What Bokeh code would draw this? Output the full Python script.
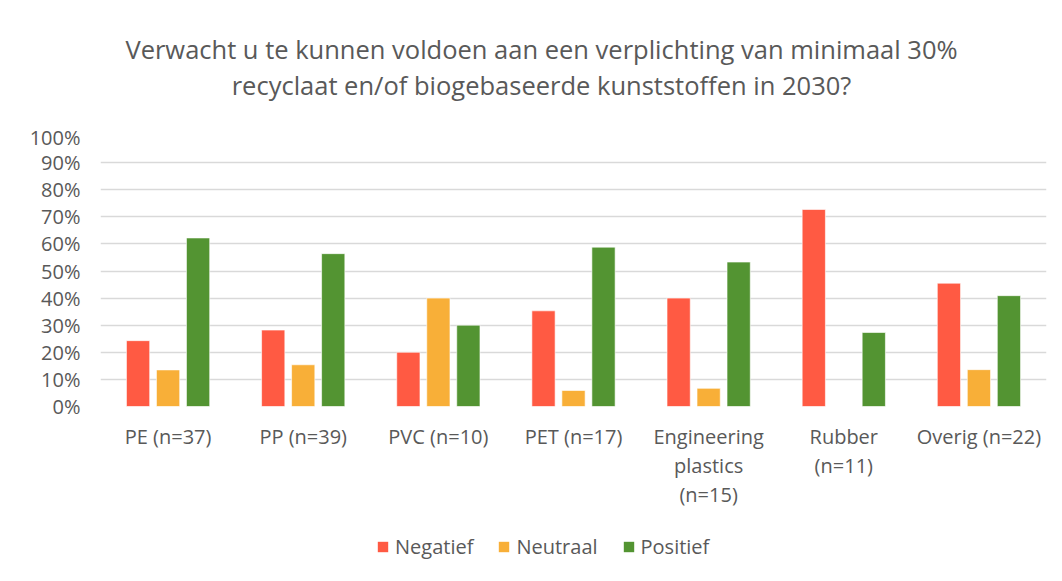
from bokeh.plotting import figure
from bokeh.layouts import column
from bokeh.models import FactorRange, Legend, LegendItem, NumeralTickFormatter, FixedTicker, Label
from bokeh.transform import dodge
from bokeh.embed import file_html
from bokeh.resources import INLINE

categories = ["PE (n=37)", "PP (n=39)", "PVC (n=10)", "PET (n=17)",
              "Engineering\nplastics\n(n=15)", "Rubber\n(n=11)", "Overig (n=22)"]
negatief = [0.243, 0.282, 0.20, 0.353, 0.40, 0.727, 0.455]
neutraal = [0.135, 0.154, 0.40, 0.059, 0.067, 0.0, 0.136]
positief = [0.622, 0.564, 0.30, 0.588, 0.533, 0.273, 0.409]
series_names = ["Negatief", "Neutraal", "Positief"]
colors = ["#FF5A43", "#F8AF38", "#539432"]
title_lines = ["Verwacht u te kunnen voldoen aan een verplichting van minimaal 30%",
               "recyclaat en/of biogebaseerde kunststoffen in 2030?"]

FONT = "Open Sans"
GREY = "#595959"
W = 1060


def blank(height):
    f = figure(width=W, height=height, x_range=(0, 1), y_range=(0, 1), output_backend="svg",
               toolbar_location=None, min_border=0, outline_line_color=None)
    f.axis.visible = False
    f.grid.visible = False
    return f


# --- title strip ---
top = blank(123)
for txt, yy in zip(title_lines, [75, 39]):
    top.add_layout(Label(x=441, y=yy, x_units="screen", y_units="screen", text=txt,
                         text_align="center", text_baseline="middle", text_font=FONT,
                         text_font_size="25.5px", text_color=GREY))

# --- main chart ---
p = figure(x_range=FactorRange(*categories), y_range=(0, 1.0),
           width=W, height=398, output_backend="svg", toolbar_location=None,
           min_border_left=100, min_border_right=14, min_border_top=12, min_border_bottom=115)

data = dict(cat=categories, neg=negatief, neu=neutraal, pos=positief)
offsets = [-0.222, 0.0, 0.222]
keys = ["neg", "neu", "pos"]
for k, off, c in zip(keys, offsets, colors):
    p.vbar(x=dodge("cat", off, range=p.x_range), top=k, width=0.172, source=data,
           fill_color=c, line_color="white", line_alpha=0.6, line_width=1)

p.yaxis.ticker = FixedTicker(ticks=[i / 10 for i in range(11)])
p.yaxis.formatter = NumeralTickFormatter(format="0%")
for ax in (p.xaxis, p.yaxis):
    ax.axis_line_color = None
    ax.major_tick_line_color = None
    ax.minor_tick_line_color = None
    ax.major_label_text_font = FONT
    ax.major_label_text_font_size = "20px"
    ax.major_label_text_color = GREY
p.xaxis.major_label_text_line_height = 1.08
p.xaxis.major_label_standoff = 10
p.yaxis.major_label_standoff = 14
p.xgrid.grid_line_color = None
p.ygrid.grid_line_color = "#d9d9d9"
p.ygrid.grid_line_width = 1.5
p.outline_line_color = None

# --- legend strip (zero-height swatch bars, only their legend glyphs show) ---
bottom = blank(56)
swatch = dict(x=[0.5], top=[0.5], bottom=[0.5])
leg_renderers = [bottom.vbar(x="x", top="top", bottom="bottom", width=0.1, source=swatch,
                             fill_color=c, line_color=None)
                 for c in colors]
legend = Legend(items=[LegendItem(label=n, renderers=[r]) for n, r in zip(series_names, leg_renderers)],
                orientation="horizontal", location=(276, 17), border_line_color=None,
                background_fill_alpha=0,
                label_text_font=FONT, label_text_font_size="20px", label_text_color=GREY,
                glyph_width=13, glyph_height=13, label_standoff=6, spacing=24, margin=0, padding=0)
bottom.add_layout(legend, "center")

layout = column(top, p, bottom, spacing=0)
open("out.html", "w").write(file_html(layout, INLINE))
